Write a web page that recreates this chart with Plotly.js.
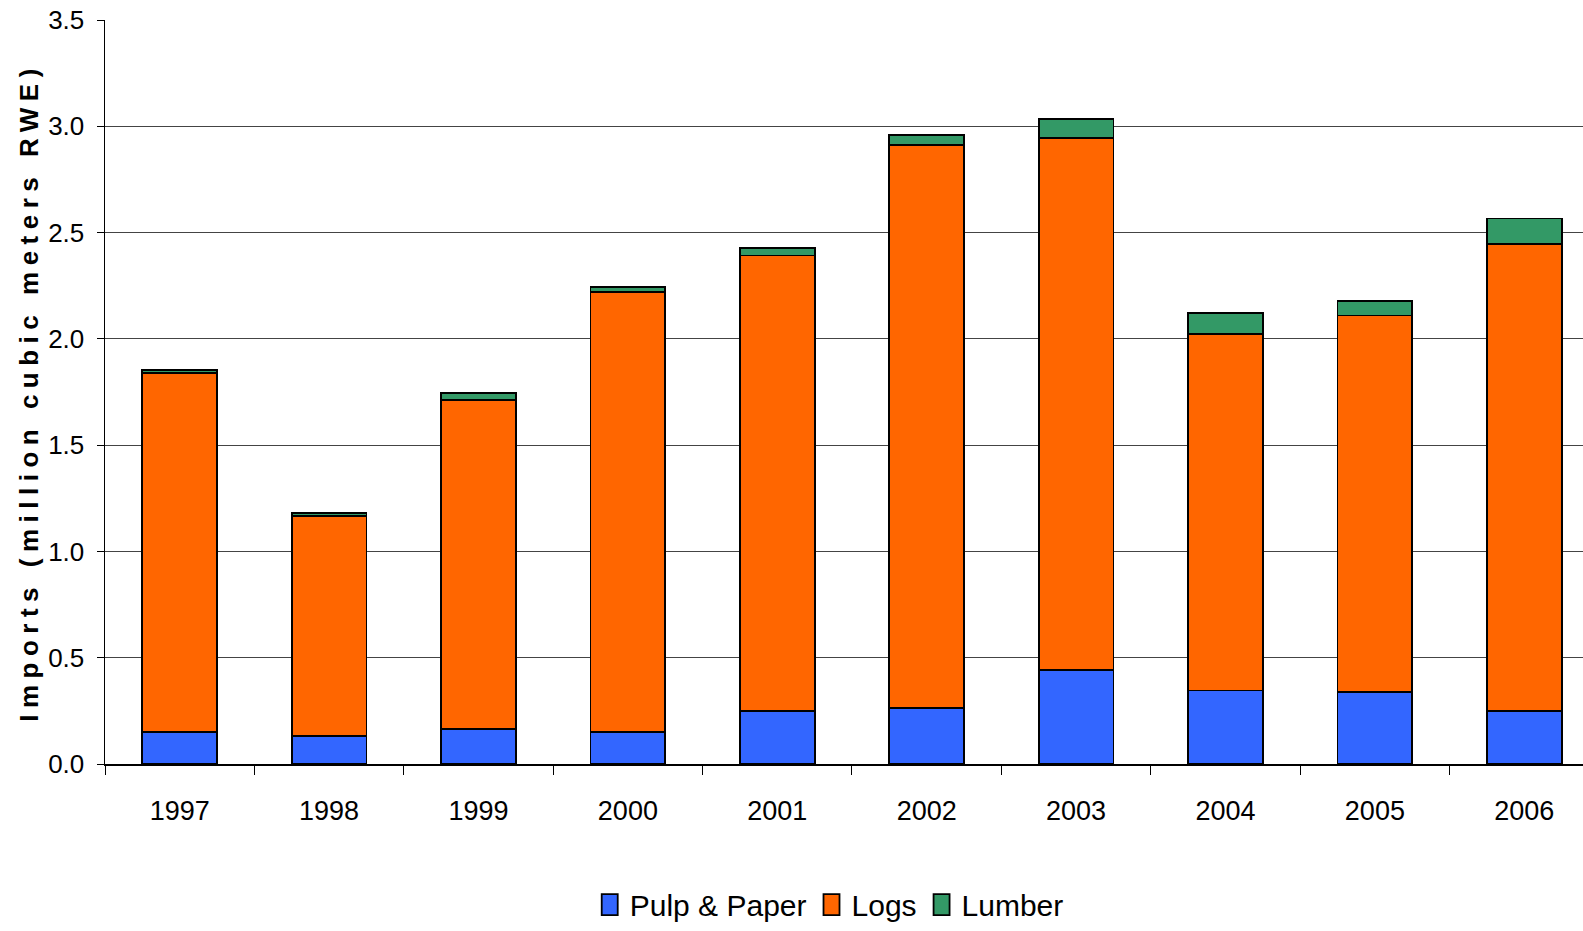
<!DOCTYPE html>
<html>
<head>
<meta charset="utf-8">
<script src="https://cdn.plot.ly/plotly-3.0.1.min.js"></script>
<style>
  html, body { margin: 0; padding: 0; background: #fff; }
  #chart { width: 1583px; height: 931px; }
</style>
</head>
<body>
<div id="chart"></div>
<script>
const years = ['1997', '1998', '1999', '2000', '2001', '2002', '2003', '2004', '2005', '2006'];
const pulpPaper = [0.152, 0.130, 0.166, 0.152, 0.251, 0.262, 0.443, 0.346, 0.337, 0.249];
const logs = [1.688, 1.038, 1.545, 2.067, 2.141, 2.650, 2.503, 1.677, 1.773, 2.198];
const lumber = [0.013, 0.014, 0.035, 0.024, 0.035, 0.047, 0.087, 0.099, 0.069, 0.119];
const yTicks = [0, 0.5, 1, 1.5, 2, 2.5, 3, 3.5];
const yTickText = ['0.0', '0.5', '1.0', '1.5', '2.0', '2.5', '3.0', '3.5'];

const FONT = '"Liberation Sans", Arial, sans-serif';
const line = { color: '#000', width: 1.8 };

const traces = [
  { type: 'bar', name: 'Pulp & Paper', x: years, y: pulpPaper, marker: { color: '#3366FF', line: line } },
  { type: 'bar', name: 'Logs', x: years, y: logs, marker: { color: '#FF6600', line: line } },
  { type: 'bar', name: 'Lumber', x: years, y: lumber, marker: { color: '#339966', line: line } }
];

const layout = {
  width: 1583, height: 931,
  margin: { l: 105, r: 0, t: 20, b: 163, pad: 0 },
  paper_bgcolor: '#fff', plot_bgcolor: '#fff',
  barmode: 'stack', bargap: 0.5,
  font: { family: FONT, color: '#000', size: 26 },
  showlegend: true,
  legend: {
    orientation: 'h', x: 0.49, xanchor: 'center', y: -0.189, yanchor: 'middle',
    traceorder: 'normal', font: { family: FONT, size: 30, color: '#000' },
    itemwidth: 30
  },
  xaxis: {
    type: 'category', range: [-0.5, 9.393],
    showline: true, linecolor: '#000', linewidth: 1.5,
    ticks: 'outside', tickson: 'boundaries', ticklen: 9, tickcolor: '#000', tickwidth: 1,
    showgrid: false, zeroline: false,
    tickfont: { family: FONT, size: 27, color: '#000' },
    ticklabelstandoff: 22
  },
  yaxis: {
    range: [0, 3.5], tickvals: yTicks, ticktext: yTickText,
    showline: true, linecolor: '#000', linewidth: 1.5,
    ticks: 'outside', ticklen: 7, tickcolor: '#000', tickwidth: 1,
    showgrid: true, gridcolor: '#444', gridwidth: 1, zeroline: false,
    tickfont: { family: FONT, size: 26, color: '#000' },
    ticklabelstandoff: 7,
    title: { text: 'Imports (million cubic meters RWE)', font: { family: FONT, size: 26, color: '#000', weight: 'bold' }, standoff: 2 }
  }
};

Plotly.newPlot('chart', traces, layout, { displayModeBar: false, staticPlot: true }).then(function () {
  const t = document.querySelector('.ytitle');
  if (t) { t.style.letterSpacing = '6.5px'; }
  document.querySelectorAll('.legendpoints path').forEach(function (p) {
    p.setAttribute('d', 'M8,10.5H-8V-10.5H8Z');
    p.style.strokeWidth = '1.8px';
  });
});
</script>
</body>
</html>
